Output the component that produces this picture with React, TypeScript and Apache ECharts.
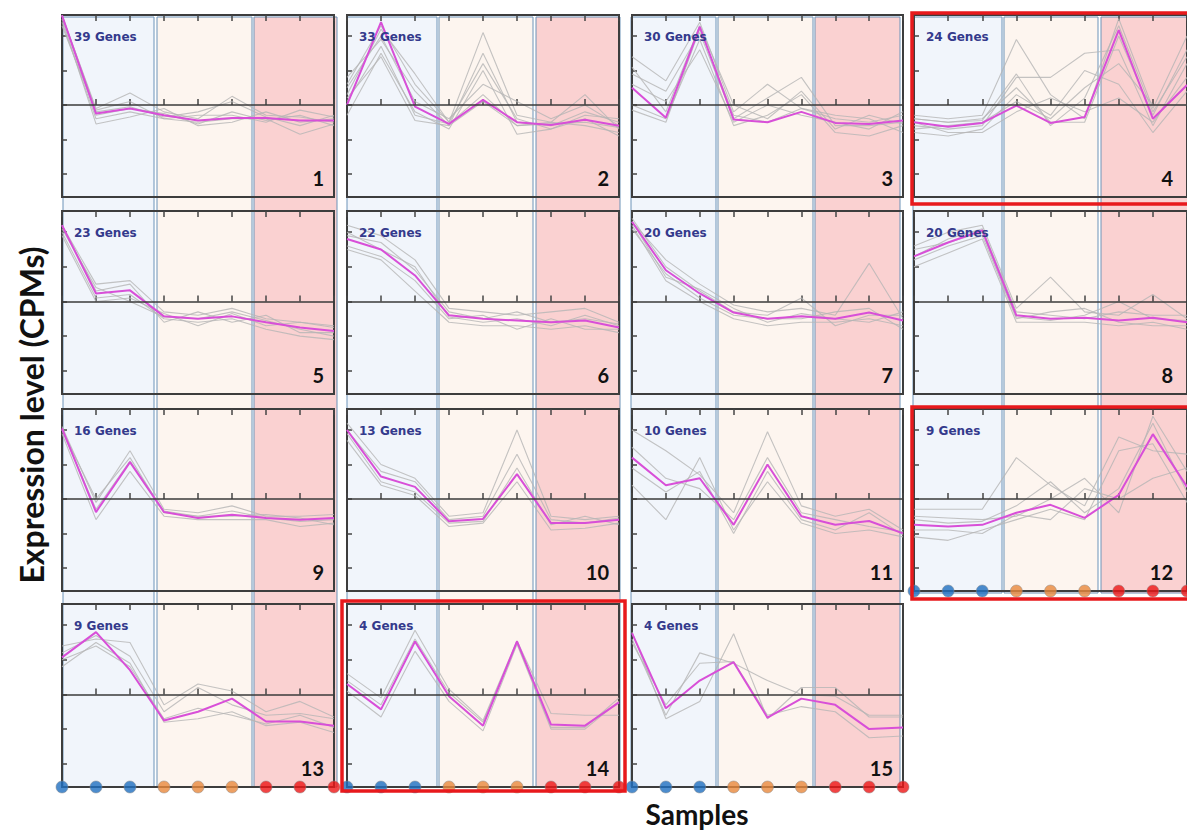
import React, { useEffect, useRef } from 'react';
import * as echarts from 'echarts';

// ---------- DATA ----------
const samples = ['B1', 'B2', 'B3', 'O1', 'O2', 'O3', 'R1', 'R2', 'R3'];
const sampleGroups = ['blue', 'blue', 'blue', 'orange', 'orange', 'orange', 'red', 'red', 'red'];
const panelNumbers = [1, 2, 3, 4, 5, 6, 7, 8, 9, 10, 11, 12, 13, 14, 15];
const geneCounts = [39, 33, 30, 24, 23, 22, 20, 20, 16, 13, 10, 9, 9, 4, 4];
const panelsWithDots = [12, 13, 14, 15];
const yTicks = [-2, -1, 0, 1, 2];

const mean1 = [2.6, -0.25, -0.1, -0.3, -0.45, -0.38, -0.38, -0.45, -0.45];
const genes1 = [
  [2.6, -0.1, 0.35, -0.2, -0.4, 0.25, -0.3, -0.35, -0.5],
  [2.4, -0.4, -0.2, -0.4, -0.5, -0.4, -0.4, -0.85, -0.55],
  [2.6, -0.3, -0.1, -0.25, -0.55, -0.2, -0.45, -0.3, -0.6],
  [2.5, -0.55, -0.35, -0.1, -0.6, -0.5, -0.2, -0.5, -0.4],
  [2.6, -0.15, 0.1, -0.4, -0.3, -0.3, -0.5, -0.15, -0.35],
  [2.3, -0.2, -0.05, -0.35, -0.2, 0.1, -0.35, -0.6, -0.3],
];
const mean2 = [0.0, 2.4, -0.05, -0.55, 0.15, -0.5, -0.58, -0.43, -0.6];
const genes2 = [
  [0.3, 2.2, 0.9, -0.5, 2.1, -0.3, -0.5, 0.3, -0.7],
  [0.8, 1.9, 0.4, -0.6, 1.5, -0.5, -0.6, -0.2, -0.5],
  [-0.3, 1.5, -0.2, -0.7, 1.0, -0.85, -0.7, -0.4, -0.9],
  [0.5, 2.0, 0.1, -0.4, 0.6, 0.1, -0.4, 0.0, -0.6],
  [0.1, 1.7, -0.3, -0.55, 0.3, -0.6, -0.5, -0.6, -0.8],
  [0.6, 2.3, 0.6, -0.5, 1.2, -0.4, -0.7, -0.3, -0.4],
  [0.2, 1.4, -0.45, -0.6, 0.1, -0.6, -0.55, -0.5, -0.65],
];
const mean3 = [0.5, -0.37, 2.27, -0.42, -0.5, -0.2, -0.52, -0.55, -0.45];
const genes3 = [
  [1.4, 0.7, 2.4, -0.2, 0.6, -0.1, -0.4, -0.5, -0.3],
  [0.9, 0.4, 2.1, -0.4, 0.2, 0.8, -0.6, -0.6, -0.5],
  [0.0, -0.4, 1.9, -0.6, -0.3, 0.3, -0.8, -0.9, -0.6],
  [-0.15, -0.5, 2.2, -0.3, -0.5, -0.1, -0.3, -0.4, -0.8],
  [0.6, 0.1, 1.6, -0.5, 0.0, -0.3, -0.5, -0.7, -0.2],
  [1.1, -0.2, 2.3, 0.0, -0.4, 0.4, -0.7, -0.3, -0.55],
];
const mean4 = [-0.5, -0.63, -0.52, -0.02, -0.52, -0.35, 2.17, -0.4, 0.58];
const genes4 = [
  [-0.3, -0.4, -0.3, 1.9, 0.3, -0.4, 2.5, -0.1, 2.0],
  [-0.6, -0.7, -0.6, 0.8, 0.8, 1.5, 1.6, -0.6, 1.2],
  [-0.8, -0.9, -0.7, 0.3, -0.3, 1.0, 0.6, -0.8, 0.4],
  [-0.4, -0.5, -0.4, 0.5, -0.5, -0.5, 2.0, -0.3, 1.6],
  [-0.7, -0.6, -0.5, 0.1, -0.4, 0.5, 1.2, 0.0, 0.0],
  [-0.5, -0.8, -0.8, -0.2, 0.2, -0.2, 0.2, -0.5, 0.8],
  [-0.4, -0.5, -0.45, 0.9, -0.6, 0.2, 2.3, -0.2, 1.4],
];
const mean5 = [2.2, 0.23, 0.32, -0.43, -0.5, -0.43, -0.6, -0.75, -0.85];
const genes5 = [
  [2.2, 0.5, 0.6, -0.3, -0.4, -0.2, -0.5, -0.6, -0.7],
  [2.0, 0.1, 0.2, -0.5, -0.6, -0.5, -0.8, -1.0, -1.1],
  [2.2, 0.3, 0.5, -0.6, -0.3, -0.6, -0.4, -0.9, -0.9],
  [1.9, 0.0, 0.1, -0.35, -0.7, -0.35, -0.7, -0.6, -0.75],
  [2.1, 0.4, 0.0, -0.45, -0.5, -0.3, -0.55, -0.8, -1.0],
];
const mean6 = [1.8, 1.5, 0.75, -0.4, -0.5, -0.55, -0.6, -0.55, -0.75];
const genes6 = [
  [2.2, 1.9, 1.2, -0.2, -0.3, -0.4, -0.3, -0.2, -0.6],
  [1.5, 1.2, 0.3, -0.6, -0.7, -0.7, -0.8, -0.7, -0.9],
  [1.9, 1.7, 0.9, -0.3, -0.5, -0.3, -0.6, -0.5, -0.65],
  [1.6, 1.3, 0.6, -0.5, -0.4, -0.8, -0.5, -0.8, -0.8],
  [2.0, 1.5, 1.0, -0.45, -0.6, -0.5, -0.7, -0.4, -0.7],
];
const mean7 = [2.3, 0.9, 0.23, -0.32, -0.5, -0.43, -0.5, -0.32, -0.55];
const genes7 = [
  [2.3, 1.2, 0.5, -0.1, -0.3, -0.2, -0.4, 1.1, -0.5],
  [2.2, 0.6, 0.0, -0.5, -0.7, -0.6, -0.6, -0.5, -0.7],
  [2.4, 1.0, 0.3, -0.3, -0.4, 0.1, -0.7, -0.4, -0.4],
  [2.1, 0.8, 0.1, -0.4, -0.5, -0.5, -0.3, -0.2, -0.8],
  [2.3, 0.7, 0.35, -0.2, -0.6, -0.35, -0.5, -0.6, -0.3],
];
const mean8 = [1.3, 1.7, 2.05, -0.4, -0.5, -0.47, -0.55, -0.47, -0.6];
const genes8 = [
  [1.6, 2.0, 2.2, -0.2, 0.7, -0.3, -0.4, 0.2, -0.5],
  [1.0, 1.4, 1.8, -0.6, -0.6, -0.6, -0.7, -0.6, -0.8],
  [1.3, 1.8, 2.1, -0.3, -0.4, -0.5, -0.3, -0.4, -0.4],
  [1.2, 1.6, 1.9, -0.5, -0.3, -0.2, -0.6, -0.7, -0.7],
  [1.5, 1.7, 2.0, -0.45, -0.55, -0.4, 0.0, -0.5, -0.55],
];
const mean9 = [2.05, -0.38, 1.07, -0.38, -0.55, -0.46, -0.55, -0.6, -0.55];
const genes9 = [
  [2.1, -0.1, 1.4, -0.3, -0.4, -0.2, -0.5, -0.5, -0.45],
  [1.9, -0.6, 0.8, -0.5, -0.6, -0.6, -0.6, -0.8, -0.7],
  [2.0, -0.3, 1.1, -0.35, -0.5, -0.35, -0.55, -0.65, -0.6],
  [2.0, 0.0, 1.2, -0.4, -0.5, -0.5, -0.45, -0.55, -0.75],
];
const mean10 = [2.0, 0.65, 0.35, -0.65, -0.58, 0.72, -0.7, -0.7, -0.6];
const genes10 = [
  [2.2, 1.0, 0.6, -0.5, -0.4, 2.0, -0.5, -0.6, -0.5],
  [1.7, 0.4, 0.1, -0.8, -0.7, 0.5, -0.9, -0.85, -0.7],
  [2.0, 0.8, 0.5, -0.6, -0.5, 1.3, -0.6, -0.7, -0.55],
  [1.9, 0.5, 0.2, -0.7, -0.65, 0.9, -0.75, -0.5, -0.75],
];
const mean11 = [1.2, 0.4, 0.6, -0.75, 1.0, -0.5, -0.75, -0.64, -1.0];
const genes11 = [
  [2.0, 1.4, 0.7, -0.4, 1.95, -0.2, -0.5, -0.3, -0.9],
  [0.4, -0.6, 1.2, -0.9, 0.5, -0.7, -1.0, -0.9, -1.1],
  [1.5, 0.6, 0.3, -0.6, 1.2, -0.4, -0.6, -0.8, -0.95],
  [0.9, 0.2, 0.8, -1.0, 0.8, -0.6, -0.9, -0.4, -1.05],
];
const mean12 = [-0.75, -0.8, -0.75, -0.4, -0.17, -0.55, 0.12, 1.88, 0.35];
const genes12 = [
  [-0.3, -0.3, -0.3, 1.2, 0.4, -0.2, 1.8, 1.4, 1.3],
  [-0.5, -0.55, -0.6, -0.5, 0.0, 0.6, -0.4, 2.4, 0.8],
  [-1.1, -1.2, -0.9, -0.6, -0.3, -0.6, 1.4, 1.6, -0.1],
  [-0.6, -0.7, -0.65, -0.2, 0.5, -0.4, 0.3, 2.2, 0.2],
  [-0.9, -0.9, -1.0, -0.45, -0.6, 0.3, 0.0, 0.6, 0.9],
];
const mean13 = [1.07, 1.8, 0.7, -0.75, -0.5, -0.12, -0.78, -0.78, -0.9];
const genes13 = [
  [1.4, 1.6, 1.5, -0.3, 0.3, 0.1, -0.5, -0.2, -0.65],
  [0.8, 1.5, 0.9, -0.8, -0.7, -0.5, -0.9, -0.8, -1.1],
  [1.2, 1.7, 1.1, -0.5, 0.2, -0.3, -0.6, -0.55, -0.7],
  [1.0, 1.4, 0.8, -0.7, -0.4, -0.6, -0.85, -0.6, -0.95],
];
const mean14 = [0.3, -0.43, 1.53, -0.05, -0.9, 1.53, -0.87, -0.9, -0.23];
const genes14 = [
  [0.6, -0.1, 1.85, 0.15, -0.75, 1.55, -0.55, -0.6, -0.6],
  [0.1, -0.65, 1.25, -0.2, -1.05, 1.45, -1.0, -1.0, -0.2],
  [0.4, -0.3, 1.6, 0.05, -0.8, 1.5, -0.95, -0.95, -0.1],
];
const mean15 = [1.77, -0.4, 0.4, 0.93, -0.67, -0.12, -0.3, -1.0, -0.95];
const genes15 = [
  [1.6, -0.6, 1.2, 0.9, 0.4, 0.0, -0.05, -0.6, -0.6],
  [1.8, -0.7, -0.2, 1.75, -0.7, 0.2, 0.2, -0.65, -0.65],
  [1.5, -0.3, 0.9, 0.95, -0.6, -0.35, -0.5, -1.25, -1.2],
];

const means = [mean1, mean2, mean3, mean4, mean5, mean6, mean7, mean8, mean9, mean10, mean11, mean12, mean13, mean14, mean15];
const geneLines = [genes1, genes2, genes3, genes4, genes5, genes6, genes7, genes8, genes9, genes10, genes11, genes12, genes13, genes14, genes15];

// ---------- LAYOUT / STYLE ----------
const Y_MIN = -2.67;
const Y_MAX = 2.61;
const COLS = [[62, 334], [347, 619], [632, 903], [914, 1188]];
const ROWS = [[15, 197], [211, 394], [409, 591], [604, 787]];
const STRIPS = [
  [[63, 154], [157, 252], [254, 337]],
  [[347, 437], [439, 533], [536, 620]],
  [[631, 716], [718, 813], [815, 900]],
  [[913, 1002], [1004, 1098], [1101, 1192]],
];
const STRIP_Y = [[17, 787], [17, 787], [17, 787], [17, 593]];
const STRIP_FILL = ['#f1f5fb', '#fdf5ef', '#fad1d1'];
const DOT_COLORS: Record<string, string> = { blue: '#1f6fc0', orange: '#e8883c', red: '#ee1515' };
const HILITE_BOXES: Record<number, number[]> = { 4: [912, 13, 290, 191], 12: [912, 407, 290, 192], 14: [342, 601, 283, 190] };

export default function App() {
  const ref = useRef<HTMLDivElement>(null);
  useEffect(() => {
    if (!ref.current) return;
    const chart = echarts.init(ref.current, null, { renderer: 'svg' });
    const grid: any[] = [];
    const xAxis: any[] = [];
    const yAxis: any[] = [];
    const series: any[] = [];
    const graphic: any[] = [];

    STRIPS.forEach((col, c) => {
      col.forEach((s, k) => {
        graphic.push({
          type: 'rect', z: -100, silent: true,
          shape: { x: s[0], y: STRIP_Y[c][0], width: s[1] - s[0], height: STRIP_Y[c][1] - STRIP_Y[c][0] },
          style: { fill: STRIP_FILL[k], stroke: '#6c93b8', lineWidth: 1 },
        });
      });
    });

    panelNumbers.forEach((num, i) => {
      const r = Math.floor(i / 4);
      const c = i % 4;
      const [x0, x1] = COLS[c];
      const [y0, y1] = ROWS[r];
      grid.push({ left: x0, top: y0, width: x1 - x0, height: y1 - y0, show: true, borderColor: '#3d3d3d', borderWidth: 2, backgroundColor: 'transparent' });
      const tick = { show: true, inside: true, length: 6, interval: 0, lineStyle: { color: '#444', width: 1.5 } };
      xAxis.push({ gridIndex: i, type: 'category', data: samples, boundaryGap: false, position: 'bottom', axisLine: { show: false }, axisTick: tick, axisLabel: { show: false }, splitLine: { show: false } });
      xAxis.push({ gridIndex: i, type: 'category', data: samples, boundaryGap: false, position: 'top', axisLine: { show: false }, axisTick: tick, axisLabel: { show: false }, splitLine: { show: false } });
      yAxis.push({ gridIndex: i, type: 'value', min: Y_MIN, max: Y_MAX, axisLine: { show: false }, axisTick: { show: true, inside: true, length: 5, customValues: yTicks, lineStyle: { color: '#444', width: 1.5 } }, axisLabel: { show: false }, splitLine: { show: false } });

      geneLines[i].forEach((g, gi) => {
        const s: any = { type: 'line', xAxisIndex: 2 * i, yAxisIndex: i, data: g, symbol: 'none', silent: true, z: 2, lineStyle: { color: '#b5b5b5', width: 1.1, opacity: 0.8 } };
        if (gi === 0) {
          s.markLine = { silent: true, symbol: 'none', label: { show: false }, lineStyle: { color: '#3a3a3a', width: 1.5, type: 'solid' }, data: [{ yAxis: 0 }] };
        }
        series.push(s);
      });
      series.push({ type: 'line', xAxisIndex: 2 * i, yAxisIndex: i, data: means[i], symbol: 'none', silent: true, z: 4, lineStyle: { color: '#d84fd8', width: 2 } });

      if (panelsWithDots.includes(num)) {
        series.push({
          type: 'scatter', xAxisIndex: 2 * i, yAxisIndex: i, clip: false, z: 10, symbolSize: 12, silent: true,
          data: samples.map((s, k) => ({ value: [k, Y_MIN], itemStyle: { color: DOT_COLORS[sampleGroups[k]], borderColor: '#888', borderWidth: 0.6 } })),
        });
      }

      graphic.push({
        type: 'text', z: 50, silent: true, x: x0 + 12, y: y0 + 22,
        style: { text: `${geneCounts[i]} Genes`, font: 'bold 12px "DejaVu Sans"', fill: '#343a8c', verticalAlign: 'middle', textVerticalAlign: 'middle' },
      });
      graphic.push({
        type: 'text', z: 50, silent: true, x: c === 3 ? 1173 : x1 - 10, y: y1 - 9,
        style: { text: String(num), font: 'bold 20px Lato', fill: '#111', align: 'right', textAlign: 'right', verticalAlign: 'bottom', textVerticalAlign: 'bottom' },
      });
      if (HILITE_BOXES[num]) {
        const b = HILITE_BOXES[num];
        graphic.push({ type: 'rect', z: 60, silent: true, shape: { x: b[0], y: b[1], width: b[2], height: b[3] }, style: { fill: 'none', stroke: '#e8191c', lineWidth: 3.5 } });
      }
    });

    graphic.push({
      type: 'text', z: 50, silent: true, x: 31, y: 415, rotation: Math.PI / 2,
      style: { text: 'Expression level (CPMs)', font: 'bold 32px Lato', fill: '#111', align: 'center', textAlign: 'center', verticalAlign: 'middle', textVerticalAlign: 'middle' },
    });
    graphic.push({
      type: 'text', z: 50, silent: true, x: 697, y: 814,
      style: { text: 'Samples', font: 'bold 28px Lato', fill: '#111', align: 'center', textAlign: 'center', verticalAlign: 'middle', textVerticalAlign: 'middle' },
    });

    chart.setOption({ animation: false, backgroundColor: '#ffffff', grid, xAxis, yAxis, series, graphic });
    return () => chart.dispose();
  }, []);
  return <div ref={ref} style={{ position: 'absolute', left: 0, top: 0, width: 1187, height: 832 }} />;
}
